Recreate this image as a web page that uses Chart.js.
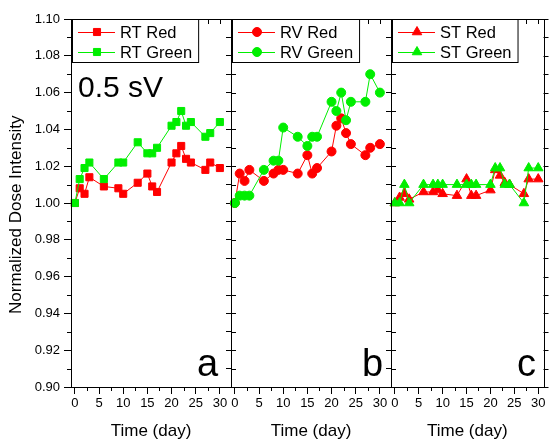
<!DOCTYPE html>
<html>
<head>
<meta charset="utf-8">
<script src="https://cdn.jsdelivr.net/npm/chart.js@4.4.0/dist/chart.umd.min.js"></script>
<style>
  body { margin: 0; background: #fff; }
  #wrap { position: relative; width: 550px; height: 439px; overflow: hidden; }
  canvas { position: absolute; top: 0; }
</style>
</head>
<body>
<div id="wrap">
  <canvas id="panelA" width="240" height="439" style="left:0px"></canvas>
  <canvas id="panelB" width="180" height="439" style="left:221px"></canvas>
  <canvas id="panelC" width="169" height="439" style="left:381px"></canvas>
</div>
<script>
// days and normalized dose intensity
var rtDays = [0, 1, 2, 3, 6, 9, 10, 13, 15, 16, 17, 20, 21, 22, 23, 24, 27, 28, 30];
var rtRed = [1.000, 1.008, 1.005, 1.014, 1.009, 1.008, 1.005, 1.011, 1.016, 1.009, 1.006, 1.022, 1.027, 1.031, 1.024, 1.022, 1.018, 1.022, 1.019];
var rtGreen = [1.000, 1.013, 1.019, 1.022, 1.013, 1.022, 1.022, 1.033, 1.027, 1.027, 1.030, 1.042, 1.044, 1.050, 1.042, 1.044, 1.036, 1.038, 1.044];

var rvDays = [0, 1, 2, 3, 6, 8, 9, 10, 13, 15, 16, 17, 20, 21, 22, 23, 24, 27, 28, 30];
var rvRed = [1.000, 1.016, 1.012, 1.018, 1.012, 1.016, 1.018, 1.018, 1.016, 1.026, 1.016, 1.019, 1.028, 1.042, 1.046, 1.038, 1.032, 1.026, 1.030, 1.032];
var rvGreen = [1.000, 1.004, 1.004, 1.004, 1.018, 1.023, 1.023, 1.041, 1.036, 1.031, 1.036, 1.036, 1.055, 1.050, 1.060, 1.045, 1.055, 1.055, 1.070, 1.060];

var stDays = [0, 1, 2, 3, 6, 8, 9, 10, 13, 15, 16, 17, 20, 21, 22, 23, 24, 27, 28, 30];
var stRed = [1.000, 1.003, 1.005, 1.002, 1.006, 1.006, 1.007, 1.005, 1.004, 1.013, 1.004, 1.004, 1.007, 1.018, 1.015, 1.011, 1.010, 1.005, 1.013, 1.013];
var stGreen = [1.000, 1.000, 1.010, 1.000, 1.010, 1.010, 1.010, 1.010, 1.010, 1.010, 1.010, 1.010, 1.010, 1.019, 1.019, 1.010, 1.010, 1.000, 1.019, 1.019];

var xTicks = [0, 5, 10, 15, 20, 25, 30];
var xMinorTicks = [2.5, 7.5, 12.5, 17.5, 22.5, 27.5];
var yTicks = [0.90, 0.92, 0.94, 0.96, 0.98, 1.00, 1.02, 1.04, 1.06, 1.08, 1.10];
var yMinorTicks = [0.91, 0.93, 0.95, 0.97, 0.99, 1.01, 1.03, 1.05, 1.07, 1.09];

var RED = '#ff0000';
var GREEN = '#00ee00';
var FONT = "'Liberation Sans', Arial, sans-serif";

Chart.defaults.font.family = FONT;
Chart.defaults.color = '#000';

function points(days, vals) {
  return days.map(function (d, i) { return { x: d, y: vals[i] }; });
}

function series(label, days, vals, color, shape, radius, order) {
  return {
    label: label,
    data: points(days, vals),
    borderColor: color,
    backgroundColor: color,
    borderWidth: 1,
    pointStyle: shape,
    pointRadius: radius,
    pointBorderWidth: 1,
    pointBorderColor: color,
    pointBackgroundColor: color,
    order: order,
    clip: false
  };
}

function px(v) { return Math.round(v) + 0.5; }

// box, mirror ticks, minor ticks, legend and panel letters
var framePlugin = {
  id: 'frame',
  afterDraw: function (chart, args, opts) {
    var ctx = chart.ctx, a = chart.chartArea;
    var xs = chart.scales.x, ys = chart.scales.y;
    ctx.save();
    ctx.strokeStyle = '#000';
    ctx.lineWidth = 1;
    ctx.strokeRect(px(a.left), px(a.top), Math.round(a.right) - Math.round(a.left), Math.round(a.bottom) - Math.round(a.top));

    ctx.beginPath();
    xTicks.concat(xMinorTicks).forEach(function (v) {
      var p = px(xs.getPixelForValue(v));
      ctx.moveTo(p, a.top); ctx.lineTo(p, a.top + 5);
    });
    xMinorTicks.forEach(function (v) {
      var p = px(xs.getPixelForValue(v));
      ctx.moveTo(p, a.bottom); ctx.lineTo(p, a.bottom + 4);
    });
    yTicks.concat(yMinorTicks).forEach(function (v) {
      var p = px(ys.getPixelForValue(v));
      ctx.moveTo(a.right, p); ctx.lineTo(a.right + 5, p);
    });
    if (opts.leftMinor) {
      yMinorTicks.forEach(function (v) {
        var p = px(ys.getPixelForValue(v));
        ctx.moveTo(a.left, p); ctx.lineTo(a.left - 4, p);
      });
    }
    ctx.stroke();

    // legend
    ctx.font = '16.5px ' + FONT;
    var ds = chart.data.datasets;
    var tw = Math.max(ctx.measureText(ds[0].label).width, ctx.measureText(ds[1].label).width);
    var bx = Math.round(a.left) + 1, by = Math.round(a.top);
    ctx.fillStyle = '#fff';
    ctx.fillRect(bx, by, tw + 54, 43);
    ctx.strokeRect(bx + 0.5, by + 0.5, tw + 54, 43);
    ds.forEach(function (d, i) {
      var yy = by + 13 + i * 20;
      ctx.strokeStyle = d.borderColor;
      ctx.beginPath();
      ctx.moveTo(bx + 6, yy + 0.5); ctx.lineTo(bx + 43, yy + 0.5);
      ctx.stroke();
      ctx.fillStyle = d.borderColor;
      Chart.helpers.drawPoint(ctx, { pointStyle: d.pointStyle, radius: d.pointRadius, borderWidth: 1, rotation: 0 }, bx + 25, yy);
      ctx.fillStyle = '#000';
      ctx.textBaseline = 'middle';
      ctx.textAlign = 'left';
      ctx.fillText(d.label, bx + 48, yy + 1);
    });

    ctx.fillStyle = '#000';
    ctx.textBaseline = 'alphabetic';
    if (opts.note) {
      ctx.font = '30px ' + FONT;
      ctx.fillText(opts.note, a.left + 7, 97);
    }
    ctx.font = '38px ' + FONT;
    ctx.fillText(opts.letter, a.left + opts.letterDx, 376);
    ctx.restore();
  }
};

function makePanel(id, p) {
  var first = p.first;
  return new Chart(document.getElementById(id), {
    type: 'line',
    data: {
      datasets: [
        series(p.labels[0], p.days, p.red, RED, p.shape, p.radius, 2),
        series(p.labels[1], p.days, p.green, GREEN, p.shape, p.radius, 1)
      ]
    },
    options: {
      responsive: false,
      animation: false,
      events: [],
      layout: { padding: { left: 0, right: p.padRight, top: 19, bottom: 0 } },
      plugins: {
        legend: { display: false },
        tooltip: { enabled: false },
        frame: { leftMinor: first, note: p.note, letter: p.letter, letterDx: p.letterDx }
      },
      scales: {
        x: {
          type: 'linear',
          min: -0.8,
          max: p.xMax,
          afterBuildTicks: function (s) { s.ticks = xTicks.map(function (v) { return { value: v }; }); },
          afterFit: function (s) { s.height = 52; },
          grid: { drawOnChartArea: false, tickLength: 7, color: '#000' },
          border: { display: true, color: '#000' },
          ticks: { font: { size: 13 }, padding: 2, maxRotation: 0, autoSkip: false, color: '#000' },
          title: { display: true, text: 'Time (day)', font: { size: 17, lineHeight: 0.85 }, padding: 0, color: '#000' }
        },
        y: {
          type: 'linear',
          min: 0.90,
          max: 1.10,
          afterBuildTicks: function (s) {
            var vals = first ? yTicks : yTicks.concat(yMinorTicks);
            s.ticks = vals.map(function (v) { return { value: v }; });
          },
          afterFit: function (s) { s.width = first ? 71 : 10; },
          grid: { drawOnChartArea: false, tickLength: first ? 7 : 5, color: '#000' },
          border: { display: true, color: '#000' },
          ticks: {
            font: { size: 13 },
            padding: first ? 4 : 0,
            color: '#000',
            autoSkip: false,
            callback: function (v) { return first ? v.toFixed(2) : ''; }
          },
          title: {
            display: first,
            text: 'Normalized Dose Intensity     ',
            font: { size: 17 },
            padding: { top: 6.5, bottom: 0 },
            color: '#000'
          }
        }
      }
    },
    plugins: [framePlugin]
  });
}

makePanel('panelA', {
  first: true, days: rtDays, red: rtRed, green: rtGreen, labels: ['RT Red', 'RT Green'],
  shape: 'rect', radius: 5, xMax: 32.3, padRight: 9, note: '0.5 sV', letter: 'a', letterDx: 126
});
makePanel('panelB', {
  first: false, days: rvDays, red: rvRed, green: rvGreen, labels: ['RV Red', 'RV Green'],
  shape: 'circle', radius: 4.5, xMax: 32.3, padRight: 10, note: '', letter: 'b', letterDx: 131
});
makePanel('panelC', {
  first: false, days: stDays, red: stRed, green: stGreen, labels: ['ST Red', 'ST Green'],
  shape: 'triangle', radius: 5.5, xMax: 31.1, padRight: 5, note: '', letter: 'c', letterDx: 126
});
</script>
</body>
</html>
